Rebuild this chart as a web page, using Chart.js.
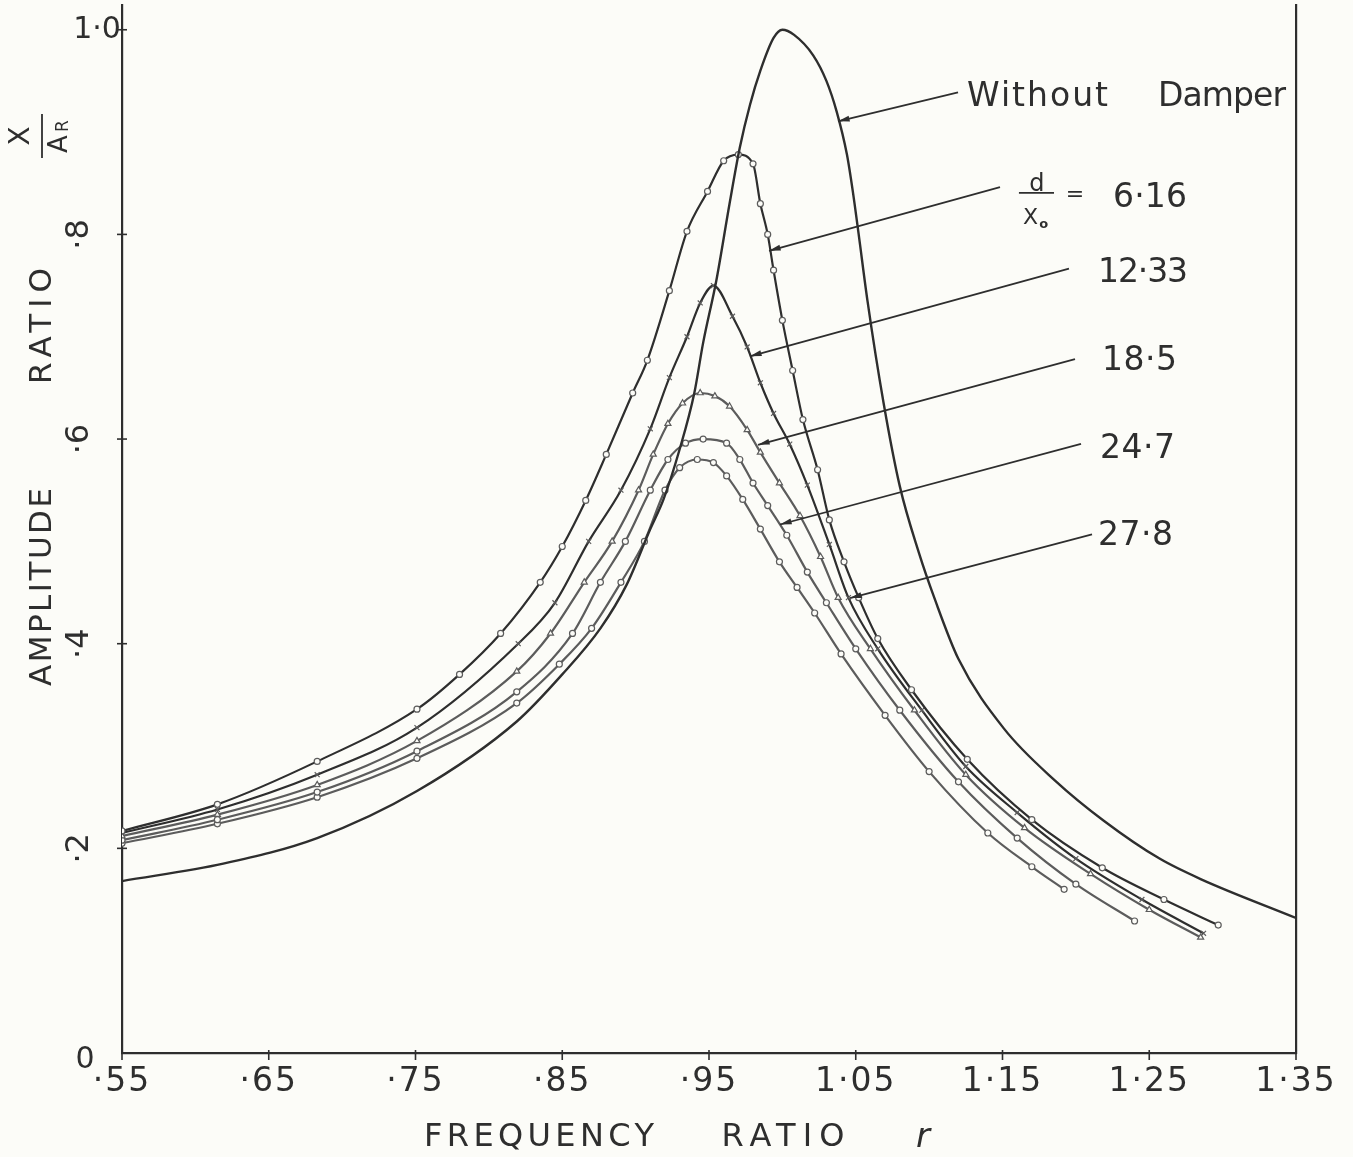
<!DOCTYPE html>
<html lang="en">
<head>
<meta charset="UTF-8">
<title>Amplitude ratio vs frequency ratio</title>
<script src="https://cdn.jsdelivr.net/npm/chart.js"></script>
<style>
  html, body { margin: 0; padding: 0; background: #fcfcf8; }
  #wrap { width: 1353px; height: 1157px; position: relative; }
</style>
</head>
<body>
<div id="wrap"><canvas id="myChart"></canvas></div>
<script>
// tick values and labels
const xTickVals = [0.55, 0.65, 0.75, 0.85, 0.95, 1.05, 1.15, 1.25, 1.35];
const xTickText = ['·55', '·65', '·75', '·85', '·95', '1·05', '1·15', '1·25', '1·35'];
const yTickVals = [0.2, 0.4, 0.6, 0.8, 1.0];
const yTickText = ['·2', '·4', '·6', '·8', '1·0'];

// without damper
const rWD = [0.55, 0.619, 0.683, 0.751, 0.819, 0.85, 0.876, 0.894, 0.91, 0.919, 0.93, 0.94, 0.946, 0.955, 0.964, 0.971, 0.978, 0.985, 0.994, 1.0, 1.008, 1.021, 1.03, 1.037, 1.044, 1.048, 1.052, 1.058, 1.069, 1.08, 1.093, 1.104, 1.12, 1.151, 1.186, 1.219, 1.257, 1.285, 1.35];
const yWD = [0.168, 0.185, 0.21, 0.256, 0.324, 0.37, 0.415, 0.458, 0.512, 0.541, 0.59, 0.645, 0.694, 0.755, 0.83, 0.885, 0.927, 0.96, 0.992, 1.0, 0.995, 0.975, 0.95, 0.92, 0.878, 0.842, 0.80, 0.735, 0.635, 0.554, 0.489, 0.443, 0.385, 0.317, 0.266, 0.227, 0.19, 0.17, 0.132];

// d/Xo = 6.16
const r616 = [0.55, 0.615, 0.683, 0.751, 0.78, 0.808, 0.835, 0.85, 0.866, 0.88, 0.898, 0.908, 0.923, 0.935, 0.949, 0.96, 0.97, 0.98, 0.985, 0.99, 0.994, 1.0, 1.007, 1.014, 1.024, 1.032, 1.042, 1.052, 1.065, 1.088, 1.126, 1.17, 1.218, 1.26, 1.297];
const y616 = [0.217, 0.243, 0.285, 0.336, 0.37, 0.41, 0.46, 0.495, 0.54, 0.585, 0.645, 0.677, 0.745, 0.803, 0.842, 0.872, 0.878, 0.869, 0.83, 0.80, 0.765, 0.716, 0.667, 0.619, 0.57, 0.521, 0.48, 0.445, 0.405, 0.355, 0.287, 0.228, 0.181, 0.15, 0.125];

// d/Xo = 12.33
const r1233 = [0.55, 0.615, 0.683, 0.751, 0.82, 0.845, 0.868, 0.89, 0.91, 0.923, 0.935, 0.944, 0.953, 0.966, 0.976, 0.985, 0.994, 1.005, 1.017, 1.032, 1.045, 1.065, 1.095, 1.125, 1.16, 1.2, 1.245, 1.287];
const y1233 = [0.215, 0.238, 0.272, 0.318, 0.40, 0.44, 0.50, 0.55, 0.61, 0.66, 0.70, 0.733, 0.75, 0.72, 0.69, 0.655, 0.625, 0.595, 0.555, 0.497, 0.445, 0.395, 0.335, 0.28, 0.235, 0.19, 0.15, 0.117];

// d/Xo = 18.5
const r185 = [0.55, 0.615, 0.683, 0.751, 0.819, 0.842, 0.865, 0.884, 0.902, 0.912, 0.922, 0.932, 0.944, 0.954, 0.964, 0.976, 0.985, 0.998, 1.012, 1.026, 1.038, 1.06, 1.09, 1.125, 1.165, 1.21, 1.25, 1.285];
const y185 = [0.212, 0.233, 0.262, 0.305, 0.373, 0.41, 0.46, 0.50, 0.55, 0.585, 0.615, 0.635, 0.645, 0.642, 0.632, 0.609, 0.587, 0.557, 0.525, 0.485, 0.445, 0.395, 0.335, 0.272, 0.22, 0.175, 0.14, 0.113];

// d/Xo = 24.7
const r247 = [0.55, 0.615, 0.683, 0.751, 0.819, 0.857, 0.876, 0.893, 0.91, 0.922, 0.934, 0.946, 0.962, 0.971, 0.98, 0.99, 1.003, 1.017, 1.03, 1.05, 1.08, 1.12, 1.16, 1.2, 1.24];
const y247 = [0.208, 0.228, 0.255, 0.295, 0.353, 0.41, 0.46, 0.50, 0.55, 0.58, 0.596, 0.60, 0.596, 0.58, 0.557, 0.535, 0.506, 0.47, 0.44, 0.395, 0.335, 0.265, 0.21, 0.165, 0.129];

// d/Xo = 27.8
const r278 = [0.55, 0.615, 0.683, 0.751, 0.819, 0.848, 0.87, 0.89, 0.906, 0.92, 0.93, 0.942, 0.953, 0.962, 0.973, 0.985, 0.998, 1.01, 1.022, 1.04, 1.07, 1.1, 1.14, 1.17, 1.192];
const y278 = [0.205, 0.224, 0.25, 0.288, 0.342, 0.38, 0.415, 0.46, 0.50, 0.55, 0.572, 0.58, 0.577, 0.564, 0.541, 0.512, 0.48, 0.455, 0.43, 0.39, 0.33, 0.275, 0.215, 0.182, 0.16];

const ink = '#2e2e2e';
const grey = '#5c5c5c';
const FONT = '"DejaVu Sans", sans-serif';

function pts(rs, ys) {
    return rs.map((r, i) => ({ x: r, y: ys[i] }));
}

function curve(label, rs, ys, color, width, style, radius) {
    return {
        label: label,
        data: pts(rs, ys),
        showLine: true,
        borderColor: color,
        borderWidth: width,
        cubicInterpolationMode: 'monotone',
        pointStyle: style,
        pointRadius: radius,
        pointBorderColor: grey,
        pointBackgroundColor: '#fcfcf8',
        pointBorderWidth: 1.2
    };
}

// leader lines: [label end r, y, curve end r, y]
const leaders = [
    [1.1197, 0.9387, 1.0379, 0.9105],
    [1.1483, 0.8463, 0.9909, 0.7840],
    [1.1953, 0.7665, 0.9779, 0.6809],
    [1.1994, 0.6780, 0.9834, 0.5944],
    [1.2035, 0.5953, 0.9984, 0.5165],
    [1.2110, 0.5068, 1.0461, 0.4446]
];
// curve labels: text, left r, baseline y
const curveLabels = [
    ['12·33', 1.2151, 0.7539],
    ['18·5', 1.2178, 0.6673],
    ['24·7', 1.2164, 0.5817],
    ['27·8', 1.2151, 0.4961]
];

function txt(ctx, s, px, py, size, opts) {
    opts = opts || {};
    ctx.save();
    ctx.translate(px, py);
    if (opts.rot) ctx.rotate(opts.rot);
    ctx.font = (opts.style || '') + ' ' + size + 'px ' + FONT;
    ctx.textAlign = opts.align || 'center';
    ctx.textBaseline = opts.base || 'middle';
    if (opts.width) {
        ctx.letterSpacing = '0px';
        const w = ctx.measureText(s).width;
        const sp = (opts.width - w) / Math.max(1, s.length - 1);
        ctx.letterSpacing = sp + 'px';
        if ((opts.align || 'center') === 'center') ctx.translate(sp / 2, 0);
    } else if (opts.spacing) {
        ctx.letterSpacing = opts.spacing + 'px';
    }
    ctx.fillText(s, 0, 0);
    ctx.restore();
}

function seg(ctx, x1, y1, x2, y2) {
    ctx.beginPath();
    ctx.moveTo(x1, y1);
    ctx.lineTo(x2, y2);
    ctx.stroke();
}

const overlay = {
    id: 'overlay',
    afterDraw(chart) {
        const ctx = chart.ctx;
        const X = v => chart.scales.x.getPixelForValue(v);
        const Y = v => chart.scales.y.getPixelForValue(v);
        const x0 = X(0.55), y0 = Y(0);
        ctx.save();
        ctx.fillStyle = ink;
        ctx.strokeStyle = ink;
        ctx.lineWidth = 1.6;

        // tick marks
        xTickVals.forEach(v => seg(ctx, X(v), y0 - 3, X(v), y0 + 7));
        yTickVals.forEach(v => seg(ctx, x0 - 5, Y(v), x0 + 5, Y(v)));

        // tick labels
        xTickVals.forEach((v, i) => txt(ctx, xTickText[i], X(v), y0 + 29, 33, { spacing: 2 }));
        txt(ctx, '0', x0 - 37, y0 + 7, 30);
        yTickVals.forEach((v, i) => {
            if (v === 1.0) txt(ctx, yTickText[i], x0 - 25, Y(v), 30);
            else txt(ctx, yTickText[i], x0 - 42, Y(v), 32, { rot: -Math.PI / 2 });
        });

        // axis titles
        txt(ctx, 'FREQUENCY', 539, y0 + 85, 32, { width: 230 });
        txt(ctx, 'RATIO', 783, y0 + 85, 32, { width: 123 });
        txt(ctx, 'r', 923, y0 + 85, 34, { style: 'italic' });
        txt(ctx, 'AMPLITUDE', 43, 587, 31, { rot: -Math.PI / 2, width: 198 });
        txt(ctx, 'RATIO', 43, 326, 31, { rot: -Math.PI / 2, width: 116 });

        // X / A_R fraction, rotated
        txt(ctx, 'X', 22, 136, 28, { rot: -Math.PI / 2 });
        ctx.lineWidth = 1.8;
        seg(ctx, 42, 114, 42, 158);
        txt(ctx, 'A', 60, 144, 26, { rot: -Math.PI / 2 });
        txt(ctx, 'R', 64, 126, 17, { rot: -Math.PI / 2 });

        // leaders with arrow heads
        ctx.lineWidth = 1.8;
        leaders.forEach(l => {
            const ax = X(l[0]), ay = Y(l[1]), bx = X(l[2]), by = Y(l[3]);
            seg(ctx, ax, ay, bx, by);
            const ang = Math.atan2(by - ay, bx - ax);
            ctx.beginPath();
            ctx.moveTo(bx, by);
            ctx.lineTo(bx - 12 * Math.cos(ang - 0.25), by - 12 * Math.sin(ang - 0.25));
            ctx.lineTo(bx - 12 * Math.cos(ang + 0.25), by - 12 * Math.sin(ang + 0.25));
            ctx.closePath();
            ctx.fill();
        });

        // annotations
        txt(ctx, 'Without', X(1.1258), Y(0.9251), 33, { align: 'left', base: 'alphabetic', width: 141 });
        txt(ctx, 'Damper', X(1.2560), Y(0.9251), 33, { align: 'left', base: 'alphabetic', width: 128 });
        txt(ctx, 'd', X(1.1735), Y(0.8424), 24, { base: 'alphabetic' });
        seg(ctx, X(1.1612), Y(0.8405), X(1.1851), Y(0.8405));
        txt(ctx, 'X', X(1.1640), Y(0.8103), 22, { align: 'left', base: 'alphabetic' });
        txt(ctx, 'o', X(1.1750), Y(0.8060), 13, { align: 'left', base: 'alphabetic', style: 'bold' });
        txt(ctx, '=', X(1.1994), Y(0.8385), 22);
        txt(ctx, '6·16', X(1.2253), Y(0.8268), 33, { align: 'left', base: 'alphabetic', width: 74 });
        curveLabels.forEach(c => txt(ctx, c[0], X(c[1]), Y(c[2]), 33, { align: 'left', base: 'alphabetic', width: c[0].length > 4 ? 90 : 75 }));
        ctx.restore();
    }
};

const axisOpts = (extra) => Object.assign({
    type: 'linear',
    grid: { display: false, drawTicks: false, tickLength: 0 },
    border: { display: true, color: ink, width: 2.2 },
    ticks: { display: false, padding: 0 }
}, extra);

new Chart(document.getElementById('myChart'), {
    type: 'scatter',
    data: {
        datasets: [
            curve('Without Damper', rWD, yWD, ink, 2.4, 'circle', 0),
            curve('6.16', r616, y616, ink, 2.2, 'circle', 3),
            curve('12.33', r1233, y1233, ink, 2.2, 'crossRot', 3.5),
            curve('18.5', r185, y185, grey, 2.2, 'triangle', 3.5),
            curve('24.7', r247, y247, grey, 2.2, 'circle', 3),
            curve('27.8', r278, y278, grey, 2.2, 'circle', 3)
        ]
    },
    options: {
        responsive: true,
        maintainAspectRatio: false,
        animation: false,
        layout: { padding: { left: 122, right: 57, top: 0, bottom: 104 } },
        plugins: {
            legend: { display: false },
            tooltip: { enabled: false }
        },
        scales: {
            x: axisOpts({ min: 0.55, max: 1.35 }),
            y: axisOpts({ min: 0, max: 1.024 }),
            y2: axisOpts({ position: 'right', min: 0, max: 1.024 })
        }
    },
    plugins: [overlay]
});
</script>
</body>
</html>
